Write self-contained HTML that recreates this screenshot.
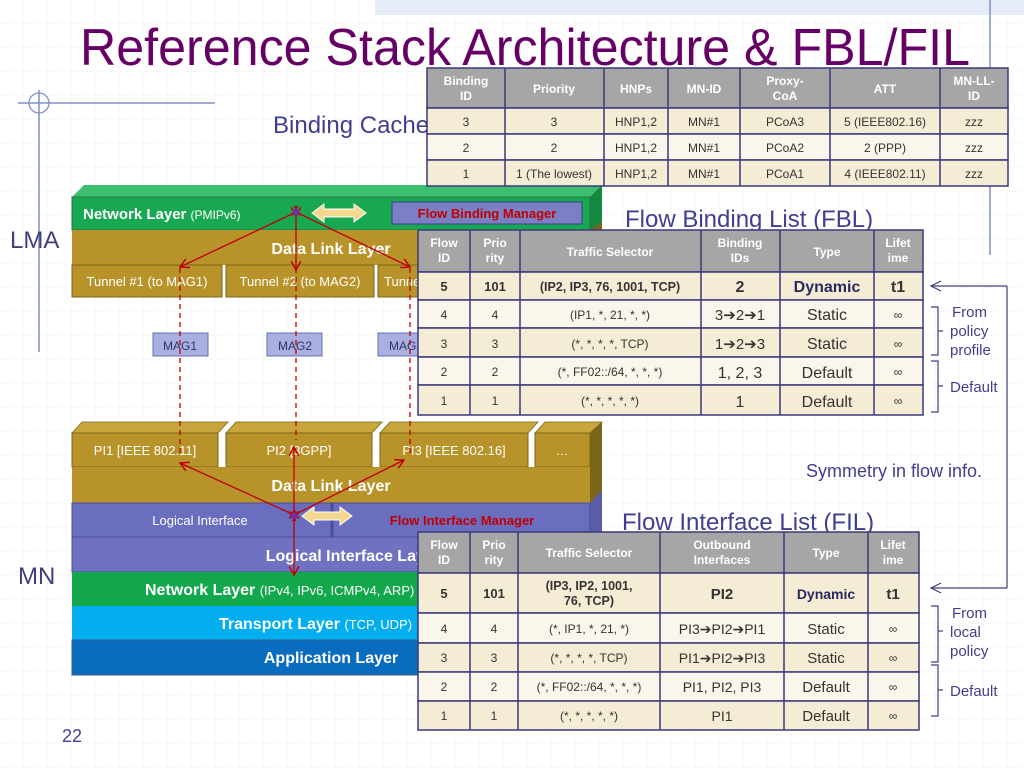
<!DOCTYPE html>
<html><head><meta charset="utf-8"><style>
html,body{margin:0;padding:0;background:#fff}
svg{display:block}
text{font-family:"Liberation Sans",sans-serif}
</style></head><body>
<svg width="1024" height="768" viewBox="0 0 1024 768" xmlns="http://www.w3.org/2000/svg">
<defs>
<pattern id="grid" width="24" height="24" patternUnits="userSpaceOnUse">
<path d="M24 0V24M0 24H24" stroke="#e8ecf4" stroke-width="1" stroke-dasharray="2,1" fill="none"/>
</pattern>
<marker id="ah" markerWidth="10" markerHeight="10" refX="9" refY="5" orient="auto" markerUnits="userSpaceOnUse">
<path d="M0,0 L9,5 L0,10" fill="none" stroke="#c00000" stroke-width="1.5"/>
</marker>
</defs>
<rect width="1024" height="768" fill="#fff"/>
<rect width="1024" height="768" fill="url(#grid)"/>
<rect x="375" y="0" width="649" height="15" fill="#e6ecf7"/>
<line x1="990" y1="0" x2="990" y2="255" stroke="#8090c8" stroke-width="1.5"/>
<line x1="39" y1="90" x2="39" y2="352" stroke="#8090c8" stroke-width="1.5"/>
<line x1="18" y1="103" x2="215" y2="103" stroke="#8090c8" stroke-width="1.5"/>
<circle cx="39" cy="103" r="10" fill="none" stroke="#8090c8" stroke-width="1.3"/>

<text x="80" y="65" font-size="52" fill="#660066" textLength="890" lengthAdjust="spacingAndGlyphs">Reference Stack Architecture &amp; FBL/FIL</text>

<text x="273" y="133" font-size="24" fill="#3f3f90">Binding Cache</text>
<text x="10" y="248" font-size="24" fill="#3f3f80">LMA</text>
<text x="18" y="584" font-size="24" fill="#3f3f80">MN</text>
<text x="625" y="227" font-size="24" fill="#3f3f90">Flow Binding List (FBL)</text>
<text x="622" y="530" font-size="24" fill="#3f3f90">Flow Interface List (FIL)</text>
<text x="806" y="477" font-size="18" fill="#3f3f90">Symmetry in flow info.</text>
<text x="62" y="742" font-size="18" fill="#3f3f90">22</text>

<!-- LMA stack -->
<polygon points="72,197 84,185 602,185 590,197" fill="#3cc070"/>
<polygon points="590,197 602,185 602,285 590,297" fill="#7a6518"/>
<polygon points="590,197 602,185 602,222 590,230" fill="#148a40"/>
<rect x="72" y="197" width="518" height="33" fill="#19a852" stroke="#2b6e4a" stroke-width="1"/>
<rect x="72" y="230" width="518" height="35" fill="#b8932a"/>
<rect x="72" y="265" width="150" height="32" fill="#b8932a" stroke="#7a6518"/>
<rect x="226" y="265" width="148" height="32" fill="#b8932a" stroke="#7a6518"/>
<rect x="378" y="265" width="212" height="32" fill="#b8932a" stroke="#7a6518"/>
<text x="83" y="219" font-size="15" font-weight="bold" fill="#fff">Network Layer <tspan font-weight="normal" font-size="12">(PMIPv6)</tspan></text>
<polygon points="312,213 324,204 324,209 354,209 354,204 366,213 354,222 354,217 324,217 324,222" fill="#f5d890" stroke="#fff" stroke-width="1"/>
<rect x="392" y="202" width="190" height="22" fill="#7b7fc4" stroke="#3d3d8a"/>
<text x="487" y="218" font-size="13" font-weight="bold" fill="#c00000" text-anchor="middle">Flow Binding Manager</text>
<text x="331" y="254" font-size="16" font-weight="bold" fill="#fff" text-anchor="middle">Data Link Layer</text>
<text x="147" y="286" font-size="13" fill="#fff" text-anchor="middle">Tunnel #1 (to MAG1)</text>
<text x="300" y="286" font-size="13" fill="#fff" text-anchor="middle">Tunnel #2 (to MAG2)</text>
<text x="384" y="286" font-size="13" fill="#fff">Tunnel</text>

<rect x="153" y="333" width="55" height="23" fill="#a8b0e0" stroke="#6670b0"/>
<text x="180" y="350" font-size="12" fill="#333366" text-anchor="middle">MAG1</text>
<rect x="267" y="333" width="55" height="23" fill="#a8b0e0" stroke="#6670b0"/>
<text x="295" y="350" font-size="12" fill="#333366" text-anchor="middle">MAG2</text>
<rect x="378" y="333" width="55" height="23" fill="#a8b0e0" stroke="#6670b0"/>
<text x="389" y="350" font-size="12" fill="#333366">MAG3</text>

<!-- MN stack -->
<g stroke="#7a6518" stroke-width="0.8">
<polygon points="72,433 82,422 228,422 218,433" fill="#c9a63c"/>
<polygon points="226,433 236,422 382,422 372,433" fill="#c9a63c"/>
<polygon points="380,433 390,422 538,422 528,433" fill="#c9a63c"/>
<polygon points="535,433 545,422 602,422 590,433" fill="#c9a63c"/>
</g>
<polygon points="590,433 602,422 602,663 590,675" fill="#5a5ea8"/>
<polygon points="590,433 602,422 602,490 590,503" fill="#7a6518"/>
<rect x="72" y="433" width="146" height="34" fill="#b8932a" stroke="#7a6518"/>
<rect x="226" y="433" width="146" height="34" fill="#b8932a" stroke="#7a6518"/>
<rect x="380" y="433" width="148" height="34" fill="#b8932a" stroke="#7a6518"/>
<rect x="535" y="433" width="55" height="34" fill="#b8932a" stroke="#7a6518"/>
<text x="145" y="455" font-size="13" fill="#fff" text-anchor="middle">PI1 [IEEE 802.11]</text>
<text x="299" y="455" font-size="13" fill="#fff" text-anchor="middle">PI2 [3GPP]</text>
<text x="454" y="455" font-size="13" fill="#fff" text-anchor="middle">PI3 [IEEE 802.16]</text>
<text x="562" y="455" font-size="12" fill="#fff" text-anchor="middle">…</text>
<rect x="72" y="467" width="518" height="36" fill="#b8932a"/>
<text x="331" y="491" font-size="16" font-weight="bold" fill="#fff" text-anchor="middle">Data Link Layer</text>
<rect x="72" y="503" width="518" height="34" fill="#6a6ebf" stroke="#4a4e9a"/>
<line x1="332" y1="503" x2="332" y2="537" stroke="#4a4e9a" stroke-width="3"/>
<text x="200" y="525" font-size="13" fill="#fff" text-anchor="middle">Logical Interface</text>
<text x="462" y="525" font-size="13" font-weight="bold" fill="#c00000" text-anchor="middle">Flow Interface Manager</text>
<polygon points="302,516 314,507 314,512 340,512 340,507 352,516 340,525 340,520 314,520 314,525" fill="#f5d890" stroke="#fff" stroke-width="1"/>
<rect x="72" y="537" width="518" height="35" fill="#6f72c0" stroke="#4a4e9a"/>
<text x="440" y="561" font-size="16" font-weight="bold" fill="#fff" text-anchor="end">Logical Interface Layer</text>
<rect x="72" y="572" width="518" height="34" fill="#14a84c"/>
<text x="145" y="595" font-size="16" font-weight="bold" fill="#fff">Network Layer <tspan font-weight="normal" font-size="13">(IPv4, IPv6, ICMPv4, ARP)</tspan></text>
<rect x="72" y="606" width="518" height="34" fill="#02aeee"/>
<text x="219" y="629" font-size="16" font-weight="bold" fill="#fff">Transport Layer <tspan font-weight="normal" font-size="13">(TCP, UDP)</tspan></text>
<rect x="72" y="640" width="518" height="35" fill="#0a6cbe" stroke="#3a5a90"/>
<text x="331" y="663" font-size="16" font-weight="bold" fill="#fff" text-anchor="middle">Application Layer</text>

<!-- red connectors -->
<g stroke="#c00000" stroke-width="1.3" fill="none">
<line x1="180" y1="268" x2="180" y2="455" stroke-dasharray="5,4"/>
<line x1="296" y1="268" x2="296" y2="440" stroke-dasharray="5,4"/>
<line x1="410" y1="268" x2="410" y2="455" stroke-dasharray="5,4"/>
<line x1="292" y1="214" x2="180" y2="267" marker-end="url(#ah)" marker-start="url(#ah)"/>
<line x1="296" y1="216" x2="296" y2="270" marker-end="url(#ah)" marker-start="url(#ah)"/>
<line x1="300" y1="214" x2="410" y2="267" marker-end="url(#ah)" marker-start="url(#ah)"/>
<line x1="290" y1="513" x2="180" y2="463" marker-end="url(#ah)" marker-start="url(#ah)"/>
<line x1="294" y1="510" x2="294" y2="447" marker-end="url(#ah)" marker-start="url(#ah)"/>
<line x1="298" y1="513" x2="404" y2="460" marker-end="url(#ah)" marker-start="url(#ah)"/>
<line x1="294" y1="520" x2="294" y2="575" marker-end="url(#ah)" marker-start="url(#ah)"/>
</g>
<circle cx="296" cy="212" r="3.5" fill="#7030a0"/>
<circle cx="294" cy="516" r="3.5" fill="#7030a0"/>

<!-- Binding Cache table -->
<g stroke="#3a3a7a" stroke-width="1.5">
<rect x="427" y="68" width="581" height="40" fill="#a6a6a6"/>
<rect x="427" y="108" width="581" height="26" fill="#f5ecd5"/>
<rect x="427" y="134" width="581" height="26" fill="#faf6ec"/>
<rect x="427" y="160" width="581" height="26" fill="#f5ecd5"/>
<path d="M505 68V186M604 68V186M668 68V186M740 68V186M830 68V186M940 68V186"/>
</g>
<g font-size="12" font-weight="bold" fill="#fff" text-anchor="middle">
<text x="466" y="85">Binding</text><text x="466" y="100">ID</text>
<text x="554" y="93">Priority</text>
<text x="636" y="93">HNPs</text>
<text x="704" y="93">MN-ID</text>
<text x="785" y="85">Proxy-</text><text x="785" y="100">CoA</text>
<text x="885" y="93">ATT</text>
<text x="974" y="85">MN-LL-</text><text x="974" y="100">ID</text>
</g>
<g font-size="12" fill="#333" text-anchor="middle">
<text x="466" y="126">3</text><text x="554" y="126">3</text><text x="636" y="126">HNP1,2</text><text x="704" y="126">MN#1</text><text x="785" y="126">PCoA3</text><text x="885" y="126">5 (IEEE802.16)</text><text x="974" y="126">zzz</text>
<text x="466" y="152">2</text><text x="554" y="152">2</text><text x="636" y="152">HNP1,2</text><text x="704" y="152">MN#1</text><text x="785" y="152">PCoA2</text><text x="885" y="152">2 (PPP)</text><text x="974" y="152">zzz</text>
<text x="466" y="178">1</text><text x="554" y="178">1 (The lowest)</text><text x="636" y="178">HNP1,2</text><text x="704" y="178">MN#1</text><text x="785" y="178">PCoA1</text><text x="885" y="178">4 (IEEE802.11)</text><text x="974" y="178">zzz</text>
</g>

<!-- FBL table -->
<g stroke="#3a3a7a" stroke-width="1.5">
<rect x="418" y="230" width="505" height="42" fill="#a6a6a6"/>
<rect x="418" y="272" width="505" height="28" fill="#f5ecd5"/>
<rect x="418" y="300" width="505" height="28" fill="#faf6ec"/>
<rect x="418" y="328" width="505" height="29" fill="#f5ecd5"/>
<rect x="418" y="357" width="505" height="28" fill="#faf6ec"/>
<rect x="418" y="385" width="505" height="30" fill="#f5ecd5"/>
<path d="M470 230V415M520 230V415M701 230V415M780 230V415M874 230V415"/>
</g>
<g font-size="12" font-weight="bold" fill="#fff" text-anchor="middle">
<text x="444" y="247">Flow</text><text x="444" y="262">ID</text>
<text x="495" y="247">Prio</text><text x="495" y="262">rity</text>
<text x="610" y="256">Traffic Selector</text>
<text x="740" y="247">Binding</text><text x="740" y="262">IDs</text>
<text x="827" y="256">Type</text>
<text x="898" y="247">Lifet</text><text x="898" y="262">ime</text>
</g>
<g fill="#333" text-anchor="middle">
<text x="444" y="291" font-size="13" font-weight="bold">5</text>
<text x="495" y="291" font-size="13" font-weight="bold">101</text>
<text x="610" y="291" font-size="12.5" font-weight="bold">(IP2, IP3, 76, 1001, TCP)</text>
<text x="740" y="292" font-size="16" font-weight="bold">2</text>
<text x="827" y="292" font-size="16" font-weight="bold" fill="#2a2a60">Dynamic</text>
<text x="898" y="292" font-size="16" font-weight="bold">t1</text>
<text x="444" y="319" font-size="12">4</text><text x="495" y="319" font-size="12">4</text>
<text x="610" y="319" font-size="12">(IP1, *, 21, *, *)</text>
<text x="740" y="320" font-size="15">3➔2➔1</text>
<text x="827" y="320" font-size="16">Static</text>
<text x="898" y="319" font-size="12">∞</text>
<text x="444" y="348" font-size="12">3</text><text x="495" y="348" font-size="12">3</text>
<text x="610" y="348" font-size="12">(*, *, *, *, TCP)</text>
<text x="740" y="349" font-size="15">1➔2➔3</text>
<text x="827" y="349" font-size="16">Static</text>
<text x="898" y="348" font-size="12">∞</text>
<text x="444" y="376" font-size="12">2</text><text x="495" y="376" font-size="12">2</text>
<text x="610" y="376" font-size="12">(*, FF02::/64, *, *, *)</text>
<text x="740" y="378" font-size="16">1, 2, 3</text>
<text x="827" y="378" font-size="16">Default</text>
<text x="898" y="376" font-size="12">∞</text>
<text x="444" y="405" font-size="12">1</text><text x="495" y="405" font-size="12">1</text>
<text x="610" y="405" font-size="12">(*, *, *, *, *)</text>
<text x="740" y="407" font-size="16">1</text>
<text x="827" y="407" font-size="16">Default</text>
<text x="898" y="405" font-size="12">∞</text>
</g>

<!-- FIL table -->
<g stroke="#3a3a7a" stroke-width="1.5">
<rect x="418" y="532" width="501" height="41" fill="#a6a6a6"/>
<rect x="418" y="573" width="501" height="40" fill="#f5ecd5"/>
<rect x="418" y="613" width="501" height="30" fill="#faf6ec"/>
<rect x="418" y="643" width="501" height="29" fill="#f5ecd5"/>
<rect x="418" y="672" width="501" height="29" fill="#faf6ec"/>
<rect x="418" y="701" width="501" height="29" fill="#f5ecd5"/>
<path d="M470 532V730M518 532V730M660 532V730M784 532V730M868 532V730"/>
</g>
<g font-size="12" font-weight="bold" fill="#fff" text-anchor="middle">
<text x="444" y="549">Flow</text><text x="444" y="564">ID</text>
<text x="494" y="549">Prio</text><text x="494" y="564">rity</text>
<text x="589" y="557">Traffic Selector</text>
<text x="722" y="549">Outbound</text><text x="722" y="564">Interfaces</text>
<text x="826" y="557">Type</text>
<text x="893" y="549">Lifet</text><text x="893" y="564">ime</text>
</g>
<g fill="#333" text-anchor="middle">
<text x="444" y="598" font-size="13" font-weight="bold">5</text>
<text x="494" y="598" font-size="13" font-weight="bold">101</text>
<text x="589" y="590" font-size="12.5" font-weight="bold">(IP3, IP2, 1001,</text>
<text x="589" y="605" font-size="12.5" font-weight="bold">76, TCP)</text>
<text x="722" y="599" font-size="15" font-weight="bold">PI2</text>
<text x="826" y="599" font-size="14" font-weight="bold" fill="#2a2a60">Dynamic</text>
<text x="893" y="599" font-size="15" font-weight="bold">t1</text>
<text x="444" y="633" font-size="12">4</text><text x="494" y="633" font-size="12">4</text>
<text x="589" y="633" font-size="12">(*, IP1, *, 21, *)</text>
<text x="722" y="634" font-size="14">PI3➔PI2➔PI1</text>
<text x="826" y="634" font-size="15">Static</text>
<text x="893" y="633" font-size="12">∞</text>
<text x="444" y="662" font-size="12">3</text><text x="494" y="662" font-size="12">3</text>
<text x="589" y="662" font-size="12">(*, *, *, *, TCP)</text>
<text x="722" y="663" font-size="14">PI1➔PI2➔PI3</text>
<text x="826" y="663" font-size="15">Static</text>
<text x="893" y="662" font-size="12">∞</text>
<text x="444" y="691" font-size="12">2</text><text x="494" y="691" font-size="12">2</text>
<text x="589" y="691" font-size="12">(*, FF02::/64, *, *, *)</text>
<text x="722" y="692" font-size="14">PI1, PI2, PI3</text>
<text x="826" y="692" font-size="15">Default</text>
<text x="893" y="691" font-size="12">∞</text>
<text x="444" y="720" font-size="12">1</text><text x="494" y="720" font-size="12">1</text>
<text x="589" y="720" font-size="12">(*, *, *, *, *)</text>
<text x="722" y="721" font-size="14">PI1</text>
<text x="826" y="721" font-size="15">Default</text>
<text x="893" y="720" font-size="12">∞</text>
</g>

<!-- right annotations -->
<g stroke="#404080" stroke-width="1.2" fill="none">
<path d="M1007 286 V588"/>
<line x1="1007" y1="286" x2="931" y2="286"/>
<line x1="1007" y1="588" x2="931" y2="588"/>
<path d="M941 281 L931 286 L941 291"/>
<path d="M941 583 L931 588 L941 593"/>
<path d="M931 307 H938 V355 H931 M938 331 H943"/>
<path d="M931 361 H938 V412 H931 M938 386 H943"/>
<path d="M931 606 H938 V662 H931 M938 631 H943"/>
<path d="M931 665 H938 V716 H931 M938 690 H943"/>
</g>
<g font-size="15" fill="#3f3f90">
<text x="952" y="317">From</text><text x="950" y="336">policy</text><text x="950" y="355">profile</text>
<text x="950" y="392">Default</text>
<text x="952" y="618">From</text><text x="950" y="637">local</text><text x="950" y="656">policy</text>
<text x="950" y="696">Default</text>
</g>
</svg>
</body></html>
